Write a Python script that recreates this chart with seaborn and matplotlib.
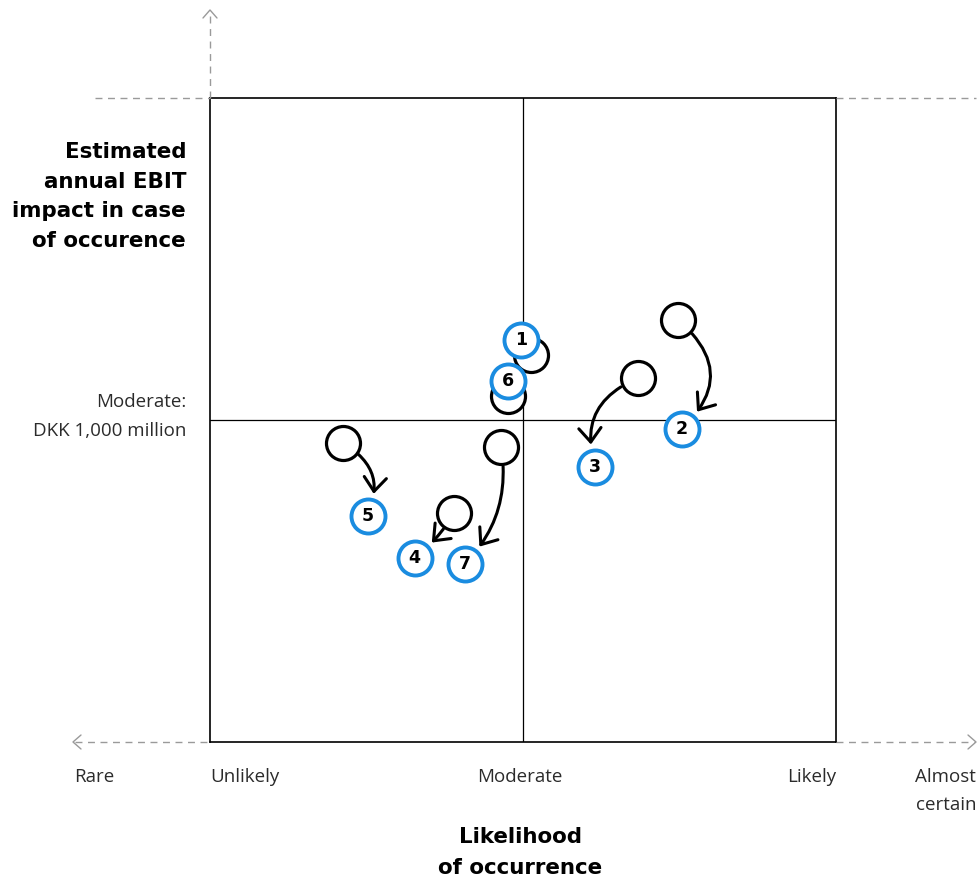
import matplotlib
matplotlib.use("Agg")
import matplotlib.pyplot as plt
from matplotlib.lines import Line2D
import seaborn as sns
import pandas as pd

# risk positions (x = likelihood 0-100, y = EBIT impact 0-100)
RISK_IDS = [1, 2, 3, 4, 5, 6, 7]
LIKELIHOOD_PREV = [51.3, 74.8, 68.4, 39.0, 21.2, 47.6, 46.5]
IMPACT_PREV = [60.1, 65.5, 56.5, 35.6, 46.4, 53.7, 45.8]
LIKELIHOOD_NOW = [49.7, 75.4, 61.5, 32.7, 25.2, 47.6, 40.7]
IMPACT_NOW = [62.4, 48.6, 42.7, 28.6, 35.1, 56.1, 27.6]
ARROW_RAD = [None, -0.55, 0.45, -0.1, -0.45, None, -0.25]

X_LABELS = ["Rare", "Unlikely", "Moderate", "Likely", "Almost\ncertain"]
Y_MID_LABEL = "Moderate:\nDKK 1,000 million"
Y_TITLE = "Estimated\nannual EBIT\nimpact in case\nof occurence"
X_TITLE = "Likelihood\nof occurrence"

BLUE = "#1A8CE0"
GREY = "#9A9A9A"
TEXT = "#2B2B2B"
W, H = 980, 881

sns.set_theme(style="white")
plt.rcParams["font.family"] = ["Open Sans", "DejaVu Sans"]

df = pd.DataFrame({
    "risk": RISK_IDS,
    "x_prev": LIKELIHOOD_PREV, "y_prev": IMPACT_PREV,
    "x_now": LIKELIHOOD_NOW, "y_now": IMPACT_NOW,
    "rad": ARROW_RAD,
})

fig = plt.figure(figsize=(W / 100, H / 100), dpi=100)
ax = fig.add_axes([210 / W, 1 - 742 / H, 626 / W, 644 / H])
ax.set_xlim(0, 100)
ax.set_ylim(0, 100)
ax.set_xticks([])
ax.set_yticks([])
for sp in ax.spines.values():
    sp.set_visible(True)
    sp.set_color("black")
    sp.set_linewidth(1.2)

ax.axvline(50, color="black", lw=0.9, zorder=1)
ax.axhline(50, color="black", lw=0.9, zorder=1)

sns.scatterplot(data=df, x="x_prev", y="y_prev", s=600, color="white",
                edgecolor="black", linewidth=2.3, ax=ax, zorder=3, legend=False)

for _, r in df.iterrows():
    if pd.isna(r["rad"]):
        continue
    ax.annotate("", xy=(r["x_now"], r["y_now"]), xytext=(r["x_prev"], r["y_prev"]),
                arrowprops=dict(arrowstyle="->,head_length=0.5,head_width=0.4",
                                connectionstyle=f"arc3,rad={r['rad']}",
                                shrinkA=14, shrinkB=16.5, lw=2.2, color="black",
                                mutation_scale=20), zorder=2)

sns.scatterplot(data=df, x="x_now", y="y_now", s=600, color="white",
                edgecolor=BLUE, linewidth=2.8, ax=ax, zorder=4, legend=False)
for _, r in df.iterrows():
    ax.text(r["x_now"], r["y_now"], str(int(r["risk"])), ha="center", va="center",
            fontsize=12.5, fontweight="bold", color="black", zorder=5,
            family="DejaVu Sans")
ax.set_xlabel("")
ax.set_ylabel("")


def fx(px):
    return px / W


def fy(py):
    return 1 - py / H


# dashed guide lines outside the box
dash = dict(color=GREY, lw=1.0, linestyle=(0, (5, 4)), transform=fig.transFigure)
segments = [((95, 98), (210, 98)), ((836, 98), (976, 98)),
            ((210, 98), (210, 12)),
            ((75, 742), (210, 742)), ((836, 742), (974, 742))]
for (x0, y0), (x1, y1) in segments:
    fig.add_artist(Line2D([fx(x0), fx(x1)], [fy(y0), fy(y1)], **dash))

chev = dict(color=GREY, lw=1.0, transform=fig.transFigure)
for pts in [[(203, 18), (210, 10), (217, 18)],
            [(81, 735), (73, 742), (81, 749)],
            [(968, 735), (976, 742), (968, 749)]]:
    fig.add_artist(Line2D([fx(p[0]) for p in pts], [fy(p[1]) for p in pts], **chev))

# axis category labels
lab = dict(fontsize=13.5, color=TEXT, va="top", transform=fig.transFigure)
fig.text(fx(74), fy(768), X_LABELS[0], ha="left", **lab)
fig.text(fx(210), fy(768), X_LABELS[1], ha="left", **lab)
fig.text(fx(520), fy(768), X_LABELS[2], ha="center", **lab)
fig.text(fx(836), fy(768), X_LABELS[3], ha="right", **lab)
fig.text(fx(976), fy(768), X_LABELS[4], ha="right", linespacing=1.75, **lab)

fig.text(fx(186), fy(393), Y_MID_LABEL, ha="right", va="top", fontsize=13.5,
         color=TEXT, linespacing=1.8)

fig.text(fx(186), fy(142), Y_TITLE, ha="right", va="top", fontsize=15.4,
         fontweight="bold", color="black", linespacing=1.6,
         family="DejaVu Sans")
fig.text(fx(520), fy(827), X_TITLE, ha="center", va="top", fontsize=15.4,
         fontweight="bold", color="black", linespacing=1.7,
         family="DejaVu Sans")

fig.savefig("out.png", dpi=100)
